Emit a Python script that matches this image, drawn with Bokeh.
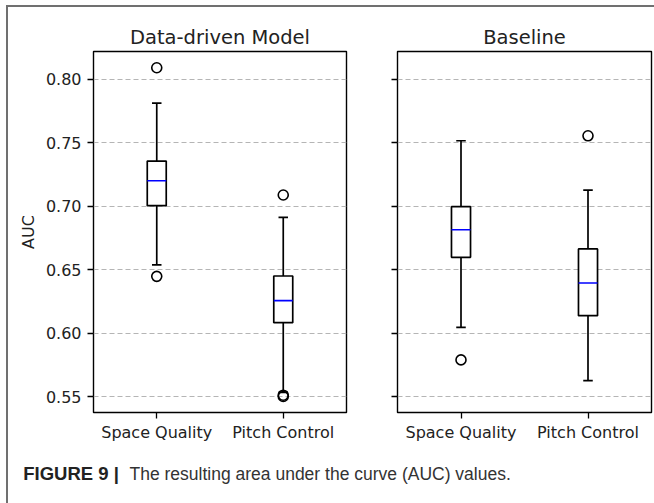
from bokeh.plotting import figure
from bokeh.layouts import row, column
from bokeh.models import Range1d, FixedTicker, NumeralTickFormatter
from bokeh.embed import file_html
from bokeh.resources import INLINE
from bokeh.core.properties import value

# ---------------- data ----------------
categories = ["Space Quality", "Pitch Control"]
y_ticks = [0.55, 0.60, 0.65, 0.70, 0.75, 0.80]
y_limits = [0.5377, 0.8217]

dd_q1 = [0.7004, 0.6084]
dd_median = [0.7200, 0.6257]
dd_q3 = [0.7355, 0.6451]
dd_whisker_low = [0.6538, 0.5535]
dd_whisker_high = [0.7811, 0.6912]
dd_outlier_cat = ["Space Quality", "Space Quality", "Pitch Control", "Pitch Control", "Pitch Control"]
dd_outlier_val = [0.8089, 0.6448, 0.7088, 0.5513, 0.5503]

bl_q1 = [0.6598, 0.6139]
bl_median = [0.6815, 0.6396]
bl_q3 = [0.6996, 0.6664]
bl_whisker_low = [0.6047, 0.5628]
bl_whisker_high = [0.7515, 0.7127]
bl_outlier_cat = ["Space Quality", "Pitch Control"]
bl_outlier_val = [0.5791, 0.7554]

caption_bold = "FIGURE 9 |"
caption_text = "The resulting area under the curve (AUC) values."

# ---------------- styling ----------------
TEXT = "#222222"
FONT = "DejaVu Sans"
BOX_W = 0.15
CAP_W = 0.075
LW = 1.7


def make_panel(title, q1, med, q3, lo, hi, out_cat, out_val, width, height,
               b_left, b_right, b_top, b_bottom, show_y_labels):
    pos = list(range(1, len(categories) + 1))
    p = figure(width=width, height=height,
               x_range=Range1d(0.5, len(categories) + 0.5),
               y_range=Range1d(*y_limits),
               output_backend="svg", toolbar_location=None,
               min_border_left=b_left, min_border_right=b_right,
               min_border_top=b_top, min_border_bottom=b_bottom)
    p.background_fill_color = "white"
    p.border_fill_color = "white"
    p.outline_line_color = "black"
    p.outline_line_width = 1.4

    p.title.text = title
    p.title.align = "center"
    p.title.text_font = FONT
    p.title.text_font_size = "19.5px"
    p.title.text_font_style = "normal"
    p.title.text_color = TEXT
    p.title.standoff = 6

    # x axis
    xa = p.xaxis[0]
    xa.ticker = FixedTicker(ticks=pos)
    xa.major_label_overrides = {x: c for x, c in zip(pos, categories)}
    xa.major_label_text_font = FONT
    xa.major_label_text_font_size = "16px"
    xa.major_label_text_color = TEXT
    xa.major_label_standoff = 4
    xa.major_tick_out = 6
    xa.major_tick_in = 0
    xa.minor_tick_out = 0
    xa.minor_tick_in = 0
    xa.axis_line_color = None
    xa.major_tick_line_color = "black"
    xa.major_tick_line_width = 1.3

    # y axis
    ya = p.yaxis[0]
    ya.ticker = FixedTicker(ticks=y_ticks)
    ya.formatter = NumeralTickFormatter(format="0.00")
    ya.major_tick_out = 6
    ya.major_tick_in = 0
    ya.minor_tick_out = 0
    ya.minor_tick_in = 0
    ya.axis_line_color = None
    ya.major_tick_line_color = "black"
    ya.major_tick_line_width = 1.3
    ya.major_label_text_font = FONT
    if show_y_labels:
        ya.major_label_text_color = TEXT
        ya.major_label_text_font_size = "16px"
        ya.major_label_standoff = 6
        ya.axis_label = "AUC"
        ya.axis_label_text_font = FONT
        ya.axis_label_text_font_size = "16px"
        ya.axis_label_text_font_style = "normal"
        ya.axis_label_text_color = TEXT
        ya.axis_label_standoff = 5
    else:
        # shared y axis: tick marks only, no labels drawn
        ya.major_label_text_color = None
        ya.major_label_text_font_size = "1px"
        ya.major_label_standoff = 0

    p.xgrid.visible = False
    p.ygrid.grid_line_color = "#b5b5b5"
    p.ygrid.grid_line_dash = "5 3"
    p.ygrid.grid_line_width = 1

    # whiskers
    p.segment(x0=pos, y0=q3, x1=pos, y1=hi, line_color="black", line_width=LW)
    p.segment(x0=pos, y0=lo, x1=pos, y1=q1, line_color="black", line_width=LW)
    cap_l = [x - CAP_W / 2 for x in pos]
    cap_r = [x + CAP_W / 2 for x in pos]
    p.segment(x0=cap_l, y0=hi, x1=cap_r, y1=hi, line_color="black", line_width=LW)
    p.segment(x0=cap_l, y0=lo, x1=cap_r, y1=lo, line_color="black", line_width=LW)
    # boxes
    p.vbar(x=pos, bottom=q1, top=q3, width=BOX_W, fill_color="white",
           line_color="black", line_width=LW)
    # medians
    med_l = [x - BOX_W / 2 for x in pos]
    med_r = [x + BOX_W / 2 for x in pos]
    p.segment(x0=med_l, y0=med, x1=med_r, y1=med, line_color="#0000ff", line_width=1.6)
    # outliers
    out_x = [pos[categories.index(c)] for c in out_cat]
    p.scatter(x=out_x, y=out_val, marker="circle", size=10, fill_color=None,
              line_color="black", line_width=1.6)
    return p


p1 = make_panel("Data-driven Model", dd_q1, dd_median, dd_q3, dd_whisker_low,
                dd_whisker_high, dd_outlier_cat, dd_outlier_val,
                362, 438, 85, 24, 44, 33, True)
p2 = make_panel("Baseline", bl_q1, bl_median, bl_q3, bl_whisker_low,
                bl_whisker_high, bl_outlier_cat, bl_outlier_val,
                284, 438, 27, 3, 44, 33, False)

# caption
p3 = figure(width=646, height=58, x_range=Range1d(0, 646), y_range=Range1d(58, 0),
            output_backend="svg", toolbar_location=None,
            x_axis_location=None, y_axis_location=None,
            min_border_left=0, min_border_right=0, min_border_top=0, min_border_bottom=0)
p3.grid.visible = False
p3.outline_line_color = None
p3.background_fill_color = "white"
p3.border_fill_color = "white"
p3.text(x=[14.7], y=[28], text=[caption_bold], text_font=value("Liberation Sans"),
        text_font_style="bold", text_font_size="18.5px", text_baseline="alphabetic",
        text_color="#222222")
p3.text(x=[121], y=[28], text=[caption_text], text_font=value("Liberation Sans"),
        text_font_style="normal", text_font_size="17.5px", text_baseline="alphabetic",
        text_color="#333333")

layout = column(row(p1, p2, spacing=0), p3, spacing=0,
                styles={"border-left": "2px solid #707070",
                        "border-top": "2px solid #707070",
                        "margin-left": "6px", "margin-top": "5px"})

open("out.html", "w").write(file_html(layout, INLINE))
